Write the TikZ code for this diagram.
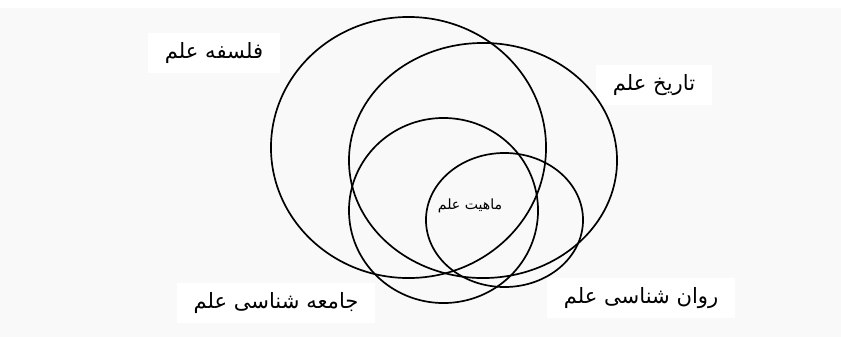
\documentclass[tikz,border=0pt]{standalone}
\usepackage{fontspec}
\newfontfamily\arabicfont[Script=Arabic]{DejaVu Sans}
\TeXXeTstate=1
\usetikzlibrary{positioning}

\begin{document}
\begin{tikzpicture}[
  x=0.025cm, y=-0.025cm,
  ring/.style={draw=black, line width=1.2pt},
  field/.style={fill=white, inner xsep=12pt, inner ysep=7pt,
    font=\arabicfont\fontsize{15}{17}\selectfont},
  core/.style={inner sep=1pt, font=\arabicfont\fontsize{10}{12}\selectfont}]
% page and ground
\useasboundingbox (0,0) rectangle (841,337);
\fill[white] (0,0) rectangle (841,337);
\fill[gray!5] (0,8) rectangle (841,337);

% labels of the fields
\node[field] (falsafe) at (214,53)  {\beginR فلسفه علم\endR};
\node[field] (tarikh)  at (654,85)  {\beginR تاریخ علم\endR};
\node[field] (jameh)   at (276,303) {\beginR جامعه شناسی علم\endR};
\node[field] (ravan)   at (641,298) {\beginR روان شناسی علم\endR};

% the four overlapping rings
\draw[ring] (408.5,147.5) ellipse [x radius=3.4375cm, y radius=3.2625cm];
\draw[ring] (483,160.5)   ellipse [x radius=3.35cm,   y radius=2.9375cm];
\draw[ring] (443.5,210.5) ellipse [x radius=2.3625cm, y radius=2.3125cm];
\draw[ring] (504.5,220)   ellipse [x radius=1.9625cm, y radius=1.675cm];

% centre
\node[core] (mahiyat) at (470,206) {\beginR ماهیت علم\endR};
\end{tikzpicture}
\end{document}
